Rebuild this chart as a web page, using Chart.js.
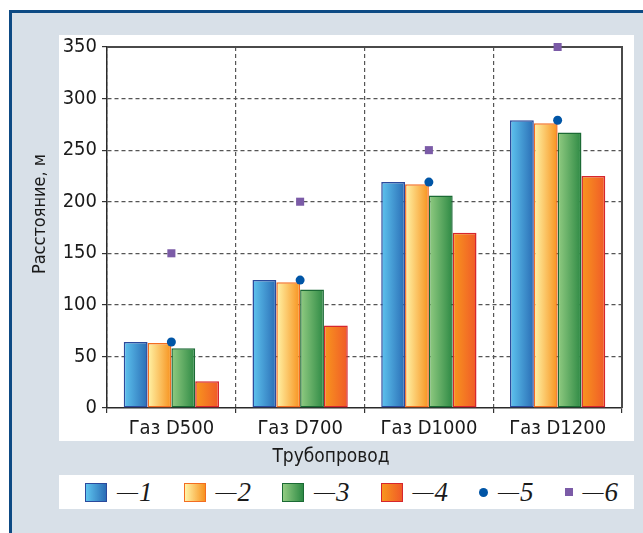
<!DOCTYPE html>
<html lang="ru">
<head>
<meta charset="utf-8">
<title>Расстояние по трубопроводам</title>
<script src="https://cdn.jsdelivr.net/npm/chart.js@4/dist/chart.umd.min.js"></script>
<style>
  html, body { margin: 0; padding: 0; background: #ffffff; }
  body { width: 643px; height: 533px; position: relative; overflow: hidden; }
  #frame {
    position: absolute; left: 9px; top: 10px; width: 660px; height: 560px;
    border-top: 3px solid #0d4a84; border-left: 3px solid #0d4a84;
    background: #d8e0e8; box-sizing: border-box;
  }
  #wrap { position: absolute; left: 0; top: 0; width: 643px; height: 533px; }
  #legend {
    position: absolute; left: 59px; top: 475px; width: 575px; height: 34px;
    background: #ffffff; display: flex; align-items: center;
    padding-left: 26px; box-sizing: border-box;
  }
  .item { display: flex; align-items: center; margin-right: 31px; }
  .item:last-child { margin-right: 0; }
  .box { width: 20px; height: 17px; border: 1.5px solid; }
  .dot { width: 9px; height: 9px; border-radius: 50%; }
  .sq { width: 8px; height: 8px; }
  .txt { margin-left: 10px; font-family: "Liberation Serif", "Times New Roman", serif;
         font-style: italic; font-weight: normal; color: #1a1a1a; line-height: 1; white-space: nowrap; }
  .txt .d { font-size: 21px; font-style: normal; position: relative; top: -2px; margin-right: 1px; }
  .txt .n { font-size: 27px; }
</style>
</head>
<body>
<div id="frame"></div>
<div id="wrap"><canvas id="chart" width="643" height="533"></canvas></div>
<div id="legend"></div>
<script>
// Pipeline categories and distances, m
const categories = ['Газ D500', 'Газ D700', 'Газ D1000', 'Газ D1200'];
const series1 = [64, 124, 219, 279];
const series2 = [63, 122, 217, 276];
const series3 = [58, 115, 206, 267];
const series4 = [26, 80, 170, 225];
const series5 = [64, 124, 219, 279];
const series6 = [150, 200, 250, 350];
const seriesNames = ['1', '2', '3', '4', '5', '6'];
const yMin = 0, yMax = 350, yStep = 50;

const xTitle = 'Трубопровод';
const yTitle = 'Расстояние, м';

const SANS = '"Liberation Sans Narrow", "Arial Narrow", "DejaVu Sans Condensed", sans-serif';
const CAT_PCT = 0.74;

// gradient fills (left -> right) and outlines of the four bar series
const barStyles = [
  { from: '#5ec4ef', to: '#2a6db5', border: '#2b4a9c' },
  { from: '#fff4a8', to: '#f7921e', border: '#f36d21' },
  { from: '#92cc82', to: '#2d8944', border: '#1b6a34' },
  { from: '#f8961e', to: '#f05a28', border: '#d6262d' }
];

function barFill(style) {
  return function (c) {
    const chart = c.chart;
    const xs = chart.scales.x;
    if (c.type !== 'data' || !xs || !chart.chartArea) return style.to;
    const nBars = 4;
    const cat = xs.width / categories.length;
    const bw = cat * CAT_PCT / nBars;
    const center = xs.getPixelForValue(c.dataIndex);
    const left = center - bw * nBars / 2 + c.datasetIndex * bw;
    const g = chart.ctx.createLinearGradient(left, 0, left + bw, 0);
    g.addColorStop(0, style.from);
    g.addColorStop(1, style.to);
    return g;
  };
}

const barSeries = [series1, series2, series3, series4];
const datasets = barSeries.map((vals, i) => ({
  type: 'bar',
  label: seriesNames[i],
  data: vals,
  backgroundColor: barFill(barStyles[i]),
  borderColor: barStyles[i].border,
  borderWidth: 1.5,
  borderSkipped: false,
  order: 2
}));
datasets.push({
  type: 'line', label: seriesNames[4], data: series5, showLine: false,
  pointStyle: 'circle', pointRadius: 4.5, pointBackgroundColor: '#0055a6',
  pointBorderWidth: 0, clip: false, order: 1
});
datasets.push({
  type: 'line', label: seriesNames[5], data: series6, showLine: false,
  pointStyle: 'rect', pointRadius: 5.7, pointBackgroundColor: '#7b5ba7',
  pointBorderWidth: 0, clip: false, order: 1
});

// white plotting panel, plot frame and axis titles
const panelPlugin = {
  id: 'panel',
  beforeDraw(chart) {
    const ctx = chart.ctx;
    ctx.save();
    ctx.fillStyle = '#ffffff';
    ctx.fillRect(59, 35, 575, 406);
    ctx.restore();
  },
  beforeDatasetsDraw(chart) {
    const { ctx, chartArea: a } = chart;
    ctx.save();
    ctx.strokeStyle = '#4a4a4a';
    ctx.lineWidth = 2;
    ctx.beginPath();
    ctx.moveTo(a.left, a.top);
    ctx.lineTo(a.right, a.top);
    ctx.lineTo(a.right, a.bottom);
    ctx.stroke();
    ctx.restore();
  },
  afterDraw(chart) {
    const ctx = chart.ctx;
    ctx.save();
    ctx.fillStyle = '#1a1a1a';
    ctx.textAlign = 'center';
    ctx.textBaseline = 'middle';
    ctx.font = '19px ' + SANS;
    ctx.fillText(xTitle, 331, 457);
    ctx.font = '18px ' + SANS;
    ctx.translate(40, 214);
    ctx.rotate(-Math.PI / 2);
    ctx.fillText(yTitle, 0, 0);
    ctx.restore();
  }
};

const chart = new Chart(document.getElementById('chart'), {
  type: 'bar',
  data: { labels: categories, datasets },
  plugins: [panelPlugin],
  options: {
    responsive: false,
    animation: false,
    events: [],
    layout: { padding: { left: 59, right: 21, top: 47, bottom: 85 } },
    datasets: { bar: { categoryPercentage: CAT_PCT, barPercentage: 1.0 } },
    plugins: { legend: { display: false }, tooltip: { enabled: false }, title: { display: false } },
    scales: {
      x: {
        offset: true,
        afterFit(s) { s.height = 40; },
        grid: { display: true, offset: true, color: '#555555', lineWidth: 1.2,
                drawTicks: true, tickLength: 5, tickColor: '#333333', tickWidth: 1.2 },
        border: { display: true, color: '#2a2a2a', width: 1.5, dash: [4, 3] },
        ticks: { color: '#1a1a1a', font: { family: SANS, size: 20 }, padding: 4, maxRotation: 0 }
      },
      y: {
        min: yMin, max: yMax,
        afterFit(s) { s.width = 48; },
        grid: { color: (c) => (c.tick && (c.tick.value === yMin || c.tick.value === yMax)) ? 'rgba(0,0,0,0)' : '#555555',
                lineWidth: 1.2, drawTicks: true, tickLength: 5, tickColor: '#333333', tickWidth: 1.2 },
        border: { display: true, color: '#2a2a2a', width: 1.5, dash: [4, 3] },
        ticks: { stepSize: yStep, color: '#1a1a1a', font: { family: SANS, size: 20 }, padding: 5 }
      }
    }
  }
});

// legend built from the chart's datasets
(function buildLegend() {
  const host = document.getElementById('legend');
  chart.data.datasets.forEach((ds, i) => {
    const item = document.createElement('div');
    item.className = 'item';
    const mark = document.createElement('div');
    if (ds.type === 'bar') {
      const st = barStyles[i];
      mark.className = 'box';
      mark.style.borderColor = st.border;
      mark.style.background = 'linear-gradient(to right, ' + st.from + ', ' + st.to + ')';
    } else {
      mark.className = ds.pointStyle === 'rect' ? 'sq' : 'dot';
      mark.style.background = ds.pointBackgroundColor;
    }
    const txt = document.createElement('span');
    txt.className = 'txt';
    txt.innerHTML = '<span class="d">—</span><span class="n">' + ds.label + '</span>';
    item.appendChild(mark);
    item.appendChild(txt);
    host.appendChild(item);
  });
})();
</script>
</body>
</html>
